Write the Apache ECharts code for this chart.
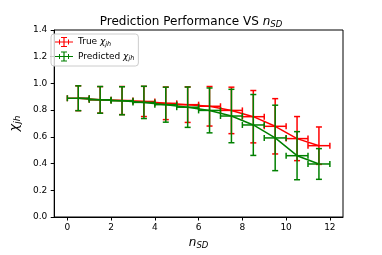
<!DOCTYPE html>
<html><head><meta charset="utf-8">
<script src="https://cdn.jsdelivr.net/npm/echarts@6/dist/echarts.min.js"></script>
<style>html,body{margin:0;padding:0;background:#fff}#c{width:382px;height:255px}</style>
</head><body><div id="c"></div>
<script>
const nsd = [0.5, 1.5, 2.5, 3.5, 4.5, 5.5, 6.5, 7.5, 8.5, 9.5, 10.5, 11.5];
const nsdErr = [0.5, 0.5, 0.5, 0.5, 0.5, 0.5, 0.5, 0.5, 0.5, 0.5, 0.5, 0.5];
const trueChi = [0.889, 0.877, 0.872, 0.865, 0.851, 0.841, 0.829, 0.798, 0.751, 0.679, 0.587, 0.534];
const trueErr = [0.093, 0.099, 0.105, 0.113, 0.122, 0.133, 0.148, 0.174, 0.196, 0.207, 0.165, 0.140];
const predChi = [0.889, 0.877, 0.870, 0.858, 0.841, 0.822, 0.798, 0.756, 0.689, 0.592, 0.459, 0.397];
const predErr = [0.093, 0.100, 0.105, 0.121, 0.131, 0.151, 0.168, 0.200, 0.228, 0.245, 0.180, 0.115];
const xTicks = [0, 2, 4, 6, 8, 10, 12];
const yTicks = [0, 0.2, 0.4, 0.6, 0.8, 1.0, 1.2, 1.4];

const FONT = 'DejaVu Sans';
const RED = '#ff0000', GREEN = '#008000';
const legendIcon = 'path://M0 4.4H18V5.6H0Z M8.4 0H9.6V10H8.4Z M6 0H12V1H6Z M6 9H12V10H6Z M4 2.5H5V7.5H4Z M13 2.5H14V7.5H13Z';

function errData(xs, ys, xe, ye) {
  return xs.map((x, i) => [x, ys[i], xe[i], ye[i]]);
}
function lineData(xs, ys) { return xs.map((x, i) => [x, ys[i]]); }

function errRender(color) {
  return function (params, api) {
    const x = api.value(0), y = api.value(1), xe = api.value(2), ye = api.value(3);
    const top = api.coord([x, y + ye]), bot = api.coord([x, y - ye]);
    const lft = api.coord([x - xe, y]), rgt = api.coord([x + xe, y]);
    const cap = 3;
    const st = { stroke: color, lineWidth: 1.5 };
    const L = (x1, y1, x2, y2) => ({ type: 'line', shape: { x1, y1, x2, y2 }, style: st });
    return {
      type: 'group',
      children: [
        L(top[0], top[1], bot[0], bot[1]),
        L(top[0] - cap, top[1], top[0] + cap, top[1]),
        L(bot[0] - cap, bot[1], bot[0] + cap, bot[1]),
        L(lft[0], lft[1], rgt[0], rgt[1]),
        L(lft[0], lft[1] - cap, lft[0], lft[1] + cap),
        L(rgt[0], rgt[1] - cap, rgt[0], rgt[1] + cap)
      ]
    };
  };
}

const chart = echarts.init(document.getElementById('c'), null, { renderer: 'canvas' });
chart.setOption({
  animation: false,
  backgroundColor: '#fff',
  title: {
    text: 'Prediction Performance VS {i|n}{s|SD}',
    left: 'center', top: 10,
    textStyle: {
      fontFamily: FONT, fontSize: 12, fontWeight: 'normal', color: '#000',
      rich: {
        i: { fontFamily: FONT, fontSize: 12, fontStyle: 'italic', color: '#000', lineHeight: 14 },
        s: { fontFamily: FONT, fontSize: 8.5, fontStyle: 'italic', color: '#000', lineHeight: 8, verticalAlign: 'bottom' }
      }
    }
  },
  legend: {
    orient: 'vertical', left: 51, top: 34,
    padding: [3, 4, 4, 4], itemGap: 4,
    itemWidth: 18, itemHeight: 10,
    borderColor: '#cccccc', borderWidth: 1, borderRadius: 3,
    backgroundColor: 'rgba(255,255,255,0.8)',
    data: [{ name: 'True', icon: legendIcon }, { name: 'Predicted', icon: legendIcon }],
    formatter: n => n + ' {c|χ}{s|jh}',
    textStyle: {
      fontFamily: FONT, fontSize: 9, color: '#000',
      rich: {
        c: { fontFamily: FONT, fontSize: 9, fontStyle: 'italic', color: '#000', lineHeight: 11 },
        s: { fontFamily: FONT, fontSize: 6.5, fontStyle: 'italic', color: '#000', lineHeight: 6, verticalAlign: 'bottom' }
      }
    }
  },
  grid: { left: 48, right: 39, top: 30, bottom: 32, show: true, borderColor: '#000', borderWidth: 1 },
  xAxis: {
    type: 'value', min: -0.6, max: 12.6,
    name: '{i|n}{s|SD}', nameLocation: 'middle', nameGap: 19,
    nameTextStyle: {
      rich: {
        i: { fontFamily: FONT, fontSize: 12, fontStyle: 'italic', color: '#000', lineHeight: 14 },
        s: { fontFamily: FONT, fontSize: 8.5, fontStyle: 'italic', color: '#000', lineHeight: 8, verticalAlign: 'bottom' }
      }
    },
    axisLine: { show: true, onZero: false, lineStyle: { color: '#000', width: 1 } },
    axisTick: { show: true, length: 3.5, lineStyle: { color: '#000' }, customValues: xTicks },
    axisLabel: { fontFamily: FONT, fontSize: 9, color: '#000', margin: 6, customValues: xTicks },
    splitLine: { show: false }
  },
  yAxis: {
    type: 'value', min: 0, max: 1.4, interval: 0.2,
    name: '{c|χ}{s|jh}', nameLocation: 'middle', nameGap: 26, nameRotate: 90,
    nameTextStyle: {
      rich: {
        c: { fontFamily: FONT, fontSize: 13, fontStyle: 'italic', color: '#000', lineHeight: 15 },
        s: { fontFamily: FONT, fontSize: 9, fontStyle: 'italic', color: '#000', lineHeight: 9, verticalAlign: 'bottom' }
      }
    },
    axisLine: { show: true, onZero: false, lineStyle: { color: '#000', width: 1 } },
    axisTick: { show: true, length: 3.5, lineStyle: { color: '#000' }, customValues: yTicks },
    axisLabel: { fontFamily: FONT, fontSize: 9, color: '#000', margin: 7, customValues: yTicks, formatter: v => v.toFixed(1) },
    splitLine: { show: false }
  },
  series: [
    { type: 'custom', name: 'TrueErr', renderItem: errRender(RED), data: errData(nsd, trueChi, nsdErr, trueErr), z: 2, silent: true },
    { type: 'line', name: 'True', data: lineData(nsd, trueChi), showSymbol: false, symbol: 'none', color: RED, lineStyle: { color: RED, width: 1.5 }, z: 3 },
    { type: 'custom', name: 'PredErr', renderItem: errRender(GREEN), data: errData(nsd, predChi, nsdErr, predErr), z: 4, silent: true },
    { type: 'line', name: 'Predicted', data: lineData(nsd, predChi), showSymbol: false, symbol: 'none', color: GREEN, lineStyle: { color: GREEN, width: 1.5 }, z: 5 }
  ]
});
</script>
</body></html>
